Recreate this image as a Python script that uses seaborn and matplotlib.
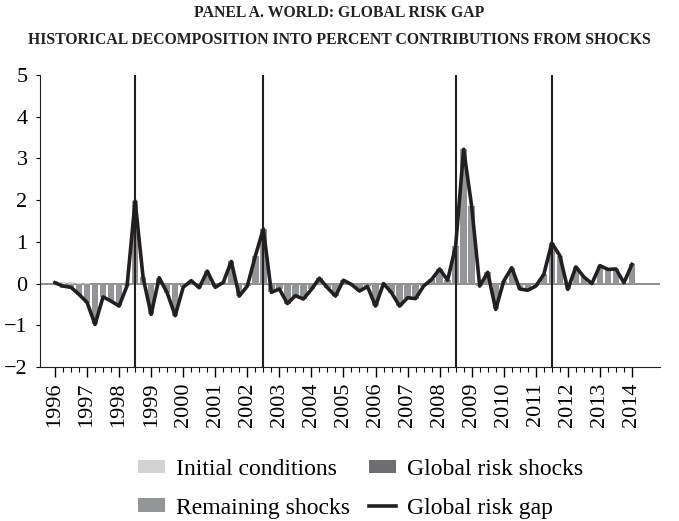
import numpy as np
import pandas as pd
import seaborn as sns
import matplotlib.pyplot as plt

# Quarterly data 1996Q1 - 2014Q1
years = list(range(1996, 2015))

risk_gap = [0.02, -0.06, -0.09, -0.26, -0.45, -0.98, -0.32, -0.42, -0.54, -0.05,
            1.98, 0.14, -0.74, 0.14, -0.22, -0.77, -0.09, 0.07, -0.10, 0.30,
            -0.09, 0.03, 0.53, -0.30, -0.06, 0.66, 1.31, -0.21, -0.13, -0.48,
            -0.29, -0.37, -0.14, 0.13, -0.10, -0.30, 0.08, -0.02, -0.18, -0.07,
            -0.54, 0.00, -0.22, -0.54, -0.34, -0.36, -0.06, 0.10, 0.35, 0.08,
            0.90, 3.22, 1.85, -0.06, 0.27, -0.62, 0.06, 0.38, -0.13, -0.16,
            -0.06, 0.22, 0.97, 0.67, -0.14, 0.40, 0.16, 0.00, 0.43, 0.34,
            0.35, 0.02, 0.46]

initial_conditions = [0.06, 0.04, 0.03, 0.02, 0.01] + [0.0] * 68

global_risk_shocks = [0.0] * 73

remaining_shocks = [-0.04, -0.10, -0.12, -0.28, -0.46, -0.98, -0.32, -0.42, -0.54, -0.05,
                    1.98, 0.15, -0.74, 0.14, -0.22, -0.77, -0.09, 0.07, -0.10, 0.30,
                    -0.09, 0.03, 0.53, -0.30, -0.06, 0.66, 1.31, -0.21, -0.13, -0.48,
                    -0.29, -0.37, -0.14, 0.13, -0.10, -0.30, 0.08, -0.02, -0.18, -0.07,
                    -0.54, 0.00, -0.22, -0.54, -0.34, -0.36, -0.06, 0.10, 0.35, 0.08,
                    0.90, 3.22, 1.85, -0.06, 0.27, -0.62, 0.06, 0.38, -0.13, -0.16,
                    -0.06, 0.22, 0.97, 0.67, -0.14, 0.40, 0.16, 0.00, 0.43, 0.34,
                    0.35, 0.02, 0.46]

# quarters (index) marking events
event_quarters = [10, 26, 50, 62]

df = pd.DataFrame({
    "q": np.arange(len(risk_gap)),
    "gap": risk_gap,
})

plt.rcParams['font.family'] = ['Liberation Serif', 'DejaVu Serif']

fig = plt.figure(figsize=(6.79, 5.21), dpi=100)
ax = fig.add_axes([0.0589, 0.2956, 0.9131, 0.5604])

series = [
    ("Initial conditions", initial_conditions, "#d2d3d5"),
    ("Remaining shocks", remaining_shocks, "#939598"),
    ("Global risk shocks", global_risk_shocks, "#6d6e71"),
]

pos_base = np.zeros(len(risk_gap))
neg_base = np.zeros(len(risk_gap))
handles = {}
for name, vals, col in series:
    v = np.array(vals)
    bottom = np.where(v >= 0, pos_base, neg_base)
    b = ax.bar(df["q"], v, bottom=bottom, width=0.8, color=col,
               linewidth=0, label=name, zorder=2)
    handles[name] = b
    pos_base = pos_base + np.clip(v, 0, None)
    neg_base = neg_base + np.clip(v, None, 0)

ax.axhline(0, color="#7a7a7a", lw=1.2, zorder=1)
for q in event_quarters:
    ax.axvline(q, color="#231f20", lw=1.5, zorder=3)

sns.lineplot(data=df, x="q", y="gap", color="#231f20", lw=2.6, ax=ax,
             zorder=4, label="Global risk gap")
line_handle = ax.get_lines()[-1]

ax.set_xlim(-1.87, 75.5)
ax.set_ylim(-2, 5)
ax.set_xlabel("")
ax.set_ylabel("")

ax.set_xticks([4 * (y - 1996) for y in years])
ax.set_xticklabels([str(y) for y in years], rotation=90, fontsize=16)
ax.set_xticks(np.arange(len(risk_gap)), minor=True)
ax.tick_params(axis="x", which="major", length=7, width=1, direction="out", pad=4)
ax.tick_params(axis="x", which="minor", length=3.5, width=0.8, direction="out")
ax.set_yticks(range(-2, 6))
ax.tick_params(axis="y", length=3, width=0.8, labelsize=16, pad=6)

for s in ["top", "right"]:
    ax.spines[s].set_visible(False)
ax.spines["left"].set_color("#231f20")
ax.spines["bottom"].set_color("#231f20")

fig.text(0.5, 0.975, "PANEL A. WORLD: GLOBAL RISK GAP", ha="center", va="center",
         fontsize=11.3, fontweight="bold", color="#231f20")
fig.text(0.5, 0.923, "HISTORICAL DECOMPOSITION INTO PERCENT CONTRIBUTIONS FROM SHOCKS",
         ha="center", va="center", fontsize=11.3, fontweight="bold", color="#231f20")

if ax.get_legend():
    ax.get_legend().remove()
order = [handles["Initial conditions"], handles["Remaining shocks"],
         handles["Global risk shocks"], line_handle]
labels = ["Initial conditions", "Remaining shocks", "Global risk shocks", "Global risk gap"]
fig.legend(order, labels, ncol=2, loc="center", bbox_to_anchor=(0.531, 0.062),
           frameon=False, fontsize=17, handlelength=1.15, handleheight=0.5,
           columnspacing=0.8, labelspacing=0.75, handletextpad=0.45)

fig.savefig("out.png", dpi=100)
